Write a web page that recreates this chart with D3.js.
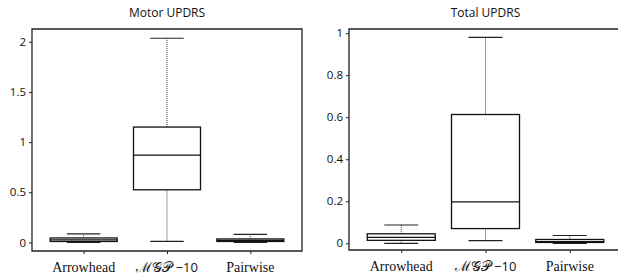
<!DOCTYPE html>
<html>
<head>
<meta charset="utf-8">
<script src="https://cdn.jsdelivr.net/npm/d3@7"></script>
<style>
  body { margin: 0; background: #fff; }
  svg { display: block; }
  .tick-y text { font-family: "Open Sans", "Noto Sans", sans-serif; font-size: 11.5px; fill: #111; }
  .cat { font-family: "Liberation Serif", "DejaVu Serif", serif; font-size: 14px; fill: #111; }
  .cat .num { font-family: "Open Sans", "Noto Sans", sans-serif; font-size: 13px; }
  .title { font-family: "Open Sans", "Noto Sans", sans-serif; font-size: 12px; fill: #111; }
</style>
</head>
<body>
<svg id="chart" width="618" height="277"></svg>
<script>
// categories shared by both panels
var categories = ["Arrowhead", "\u2133\u{1D4A2}\u{1D4AB} \u221210", "Pairwise"];

// box stats per category : [lowWhisker, q1, median, q3, highWhisker]
var motorStats = [
  [0.00, 0.01, 0.025, 0.045, 0.085],
  [0.01, 0.525, 0.87, 1.15, 2.035],
  [0.00, 0.01, 0.02, 0.035, 0.08]
];
var totalStats = [
  [0.00, 0.014, 0.028, 0.045, 0.087],
  [0.013, 0.07, 0.197, 0.613, 0.98],
  [0.00, 0.004, 0.008, 0.018, 0.037]
];

var motorTicks = [0, 0.5, 1, 1.5, 2];
var motorTickLabels = ["0", "0.5", "1", "1.5", "2"];
var totalTicks = [0, 0.2, 0.4, 0.6, 0.8, 1];
var totalTickLabels = ["0", "0.2", "0.4", "0.6", "0.8", "1"];

var svg = d3.select('#chart');

function panel(title, stats, ticks, tickLabels, yDomain, left, right, top, bottom, boxW, showRight){
  var g = svg.append('g');
  var x = d3.scalePoint().domain(categories).range([left, right]).padding(0.62);
  var y = d3.scaleLinear().domain(yDomain).range([bottom, top]);

  // title
  g.append('text').attr('class', 'title')
    .attr('x', (left + right) / 2).attr('y', 17)
    .attr('text-anchor', 'middle').text(title);

  // y axis ticks (left side)
  var yAxis = d3.axisLeft(y).tickValues(ticks).tickSize(3).tickPadding(3)
    .tickFormat(function(d, i){ return tickLabels[i]; });
  var ya = g.append('g').attr('class', 'tick-y')
    .attr('transform', 'translate(' + left + ',0)').call(yAxis);
  ya.select('.domain').remove();
  ya.selectAll('line').attr('stroke', '#222');

  // x axis ticks (bottom, pointing down)
  var xAxis = d3.axisBottom(x).tickSize(3).tickFormat('');
  var xa = g.append('g').attr('transform', 'translate(0,' + bottom + ')').call(xAxis);
  xa.select('.domain').remove();
  xa.selectAll('line').attr('stroke', '#222');

  // category labels (the "-10" part in a sans face, like the original)
  var labels = g.selectAll('.cat').data(categories).enter().append('text')
    .attr('class', 'cat')
    .attr('x', function(d){ return x(d); })
    .attr('y', bottom + 21)
    .attr('text-anchor', 'middle');
  labels.each(function(d){
    var t = d3.select(this);
    var parts = d.split(' ');
    if(parts.length > 1){
      t.append('tspan').text(parts[0] + ' ');
      t.append('tspan').attr('class', 'num').text(parts[1]);
    } else {
      t.text(d);
    }
  });

  // boxes
  var capW = boxW / 2;
  var grp = g.selectAll('.box').data(stats).enter().append('g').attr('class', 'box')
    .attr('transform', function(d, i){ return 'translate(' + x(categories[i]) + ',0)'; });

  // dotted whiskers
  grp.append('line').attr('x1', 0).attr('x2', 0)
    .attr('y1', function(d){ return y(d[3]); }).attr('y2', function(d){ return y(d[4]); })
    .attr('stroke', '#333').attr('stroke-width', 1).attr('stroke-dasharray', '1,1');
  grp.append('line').attr('x1', 0).attr('x2', 0)
    .attr('y1', function(d){ return y(d[0]); }).attr('y2', function(d){ return y(d[1]); })
    .attr('stroke', '#333').attr('stroke-width', 1).attr('stroke-dasharray', '1,1');

  // caps
  grp.append('line').attr('x1', -capW / 2).attr('x2', capW / 2)
    .attr('y1', function(d){ return y(d[4]); }).attr('y2', function(d){ return y(d[4]); })
    .attr('stroke', '#222').attr('stroke-width', 1.2);
  grp.append('line').attr('x1', -capW / 2).attr('x2', capW / 2)
    .attr('y1', function(d){ return y(d[0]); }).attr('y2', function(d){ return y(d[0]); })
    .attr('stroke', '#222').attr('stroke-width', 1.2);

  // box
  grp.append('rect').attr('x', -boxW / 2).attr('width', boxW)
    .attr('y', function(d){ return y(d[3]); })
    .attr('height', function(d){ return Math.max(1, y(d[1]) - y(d[3])); })
    .attr('fill', '#fff').attr('stroke', '#111').attr('stroke-width', 1.3);

  // median
  grp.append('line').attr('x1', -boxW / 2).attr('x2', boxW / 2)
    .attr('y1', function(d){ return y(d[2]); }).attr('y2', function(d){ return y(d[2]); })
    .attr('stroke', '#111').attr('stroke-width', 1.2);

  // frame
  var path = 'M' + right + ',' + top + 'H' + left + 'V' + bottom + 'H' + right;
  if(showRight){ path = 'M' + left + ',' + top + 'H' + right + 'V' + bottom + 'H' + left + 'Z'; }
  g.append('path').attr('d', path).attr('fill', 'none')
    .attr('stroke', '#222').attr('stroke-width', 1.3);
}

panel('Motor UPDRS', motorStats, motorTicks, motorTickLabels, [-0.085, 2.127], 32, 302, 29, 251, 67, true);
panel('Total UPDRS', totalStats, totalTicks, totalTickLabels, [-0.032, 1.02], 349, 622, 29, 250, 68, false);
</script>
</body>
</html>
